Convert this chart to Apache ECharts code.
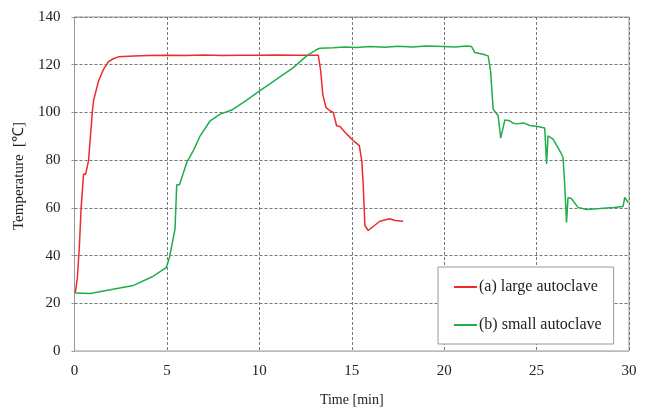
<!DOCTYPE html>
<html>
<head>
<meta charset="utf-8">
<script src="https://cdn.jsdelivr.net/npm/echarts@6/dist/echarts.min.js"></script>
<style>html,body{margin:0;padding:0;background:#fff}#c{width:651px;height:409px}</style>
</head>
<body>
<div id="c"></div>
<script>
const seriesNames = ['(a) large autoclave', '(b) small autoclave'];
const xTicks = [0, 5, 10, 15, 20, 25, 30];
const yTicks = [0, 20, 40, 60, 80, 100, 120, 140];
const largeTime = [0.04,0.16,0.27,0.36,0.49,0.6,0.76,0.97,1.03,1.3,1.57,1.84,2.1,2.38,3.2,4.0,5.0,6.0,7.0,8.0,9.0,10.0,11.0,12.0,13.19,13.32,13.43,13.6,13.82,14.0,14.18,14.36,14.72,15.08,15.41,15.54,15.62,15.71,15.89,16.16,16.52,17.06,17.34,17.78];
const largeTemp = [24.3,31,44.9,60.2,74.2,74,79.8,100.7,104.9,113.2,118.1,121.3,122.5,123.3,123.7,123.9,124,123.9,124.1,123.9,124,124,124.1,124,124,117.4,107.7,102.1,100.7,100,94.4,94.1,91,88.2,86.1,79.8,70,52.6,50.5,52.2,54.4,55.4,54.7,54.4];
const smallTime = [0.04,0.85,1.93,3.19,4.18,4.96,5.14,5.44,5.53,5.68,6.08,6.43,6.8,7.34,7.88,8.51,9.14,10.04,10.94,11.84,12.56,13.14,13.28,14.0,14.6,15.26,16.0,16.8,17.5,18.3,19.0,19.95,20.6,21.2,21.48,21.66,22.11,22.38,22.51,22.65,22.92,23.06,23.28,23.55,23.7,23.91,24.3,24.63,25.0,25.44,25.54,25.62,25.89,26.25,26.43,26.52,26.62,26.7,26.88,27.24,27.7,28.42,29.2,29.68,29.77,29.95];
const smallTemp = [24.3,24.1,25.7,27.5,31,34.9,39.3,51.2,69.7,69.7,79.1,84,90.2,96.5,99.3,101,104.2,109.1,114,118.8,123.7,126.5,126.9,127.1,127.4,127.2,127.6,127.3,127.7,127.4,127.8,127.6,127.4,127.8,127.6,125.1,124.4,123.7,117.4,101.4,98.6,89.2,96.8,96.5,95.6,95.2,95.6,94.5,94.2,93.5,78.4,90.2,88.8,84,81.2,70,53.9,64.2,63.9,60.2,59.3,59.7,60.2,60.6,64.4,62.3];

const FONT = 'Liberation Serif, Times New Roman, serif';
const chart = echarts.init(document.getElementById('c'), null, {renderer: 'canvas'});
chart.setOption({
  animation: false,
  backgroundColor: '#fff',
  grid: {left: 74.5, right: 22, top: 17, bottom: 58, show: true, borderColor: '#999', borderWidth: 1, outerBoundsMode: 'none', containLabel: false},
  legend: {
    orient: 'vertical', left: 438, top: 267,
    padding: [12, 12, 11, 16], itemGap: 22, itemWidth: 23, itemHeight: 2,
    borderColor: '#999', borderWidth: 1, backgroundColor: '#fff',
    icon: 'rect',
    textStyle: {fontFamily: FONT, fontSize: 16, color: '#222', padding: [0, 0, 0, -3]},
    data: seriesNames
  },
  xAxis: {
    type: 'value', min: xTicks[0], max: xTicks[xTicks.length - 1], interval: 5,
    name: 'Time [min]', nameLocation: 'middle', nameGap: 42,
    nameTextStyle: {fontFamily: FONT, fontSize: 14, color: '#222'},
    axisLine: {show: true, lineStyle: {color: '#bbb', width: 1}},
    axisTick: {show: false},
    axisLabel: {fontFamily: FONT, fontSize: 15, color: '#222', margin: 13},
    splitLine: {show: true, lineStyle: {type: [3, 2], color: '#777', width: 1}}
  },
  yAxis: {
    type: 'value', min: yTicks[0], max: yTicks[yTicks.length - 1], interval: 20,
    name: 'Temperature  [\u2103]', nameLocation: 'middle', nameGap: 48,
    nameTextStyle: {fontFamily: FONT, fontSize: 15, color: '#222', padding: [0, 0, 0, 16]},
    axisLine: {show: true, lineStyle: {color: '#999', width: 1}},
    axisTick: {show: true, length: 3, lineStyle: {color: '#999'}},
    axisLabel: {fontFamily: FONT, fontSize: 15, color: '#222', margin: 14},
    splitLine: {show: true, lineStyle: {type: [3, 2], color: '#777', width: 1}}
  },
  series: [
    {name: seriesNames[0], type: 'line', showSymbol: false, symbol: 'none',
     data: largeTime.map((t, i) => [t, largeTemp[i]]),
     lineStyle: {color: '#ee2a2e', width: 1.5}, itemStyle: {color: '#ee2a2e'}},
    {name: seriesNames[1], type: 'line', showSymbol: false, symbol: 'none',
     data: smallTime.map((t, i) => [t, smallTemp[i]]),
     lineStyle: {color: '#1fae4b', width: 1.5}, itemStyle: {color: '#1fae4b'}}
  ]
});
</script>
</body>
</html>
